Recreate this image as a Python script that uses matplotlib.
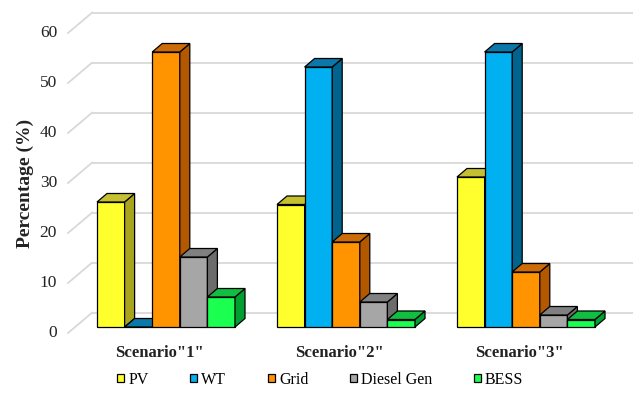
import matplotlib
matplotlib.use("Agg")
import matplotlib.pyplot as plt
from matplotlib.patches import Polygon

plt.rcParams['font.family'] = ['Liberation Serif', 'DejaVu Serif']

# ---- data ----
scenarios = ['Scenario"1"', 'Scenario"2"', 'Scenario"3"']
sources = ['PV', 'WT', 'Grid', 'Diesel Gen', 'BESS']
pv = [25, 24.5, 30]
wt = [0, 52, 55]
grid = [55, 17, 11]
diesel = [14, 5, 2.4]
bess = [6, 1.5, 1.5]
yticks = [0, 10, 20, 30, 40, 50, 60]

series = [pv, wt, grid, diesel, bess]
front_c = ['#ffff2e', '#00b0f0', '#ff9400', '#a6a6a6', '#1aff50']
side_c = ['#a8a41c', '#00648e', '#b45800', '#6c6c6c', '#00a030']
top_c = ['#c4c030', '#0a78a8', '#cc6c08', '#808080', '#10bf40']

# ---- pseudo-3D geometry (x in group units, y in percent) ----
BAR_W = 27.6 / 180
DX, DY = 10 / 180, 1.7            # bar depth projection
AXIS_X = -91 / 180                # left edge of bar plane
WALL_DX, WALL_DY = 17 / 180, 2.86  # back wall relative to bar plane
FRONT_DX, FRONT_DY = -7 / 180, -1.2  # front plane relative to bar plane

fig = plt.figure(figsize=(6.33, 4.05), dpi=100)
ax = fig.add_axes([0, 0, 1, 1])
ax.set_xlim(-166 / 180, (633 - 166) / 180)
ax.set_ylim(-15.6, 65.4)
ax.axis('off')

grid_col = '#d9d9d9'
xr = ax.get_xlim()[1]
for v in yticks:
    # back-wall gridline
    ax.plot([AXIS_X + WALL_DX, xr], [v + WALL_DY, v + WALL_DY],
            color=grid_col, lw=1.3, zorder=1, solid_capstyle='butt')
    # receding line from the front plane to the wall
    ax.plot([AXIS_X + FRONT_DX, AXIS_X + WALL_DX],
            [v + FRONT_DY, v + WALL_DY], color=grid_col, lw=1.3, zorder=1)
    ax.text(AXIS_X + FRONT_DX - 11 / 180, v + FRONT_DY, str(v),
            ha='right', va='center', fontsize=12.5, color='#222222')

n = len(sources)
handles = []
for i, (vals, name) in enumerate(zip(series, sources)):
    xs = [g - (n / 2) * BAR_W + i * BAR_W for g in range(len(scenarios))]
    z = 10 + i
    bc = ax.bar(xs, vals, width=BAR_W, align='edge', color=front_c[i],
                edgecolor='black', linewidth=0.9, zorder=z, label=name)
    handles.append(bc)
    for xl, h in zip(xs, vals):
        side = [(xl + BAR_W, 0), (xl + BAR_W + DX, DY),
                (xl + BAR_W + DX, h + DY), (xl + BAR_W, h)]
        top = [(xl, h), (xl + DX, h + DY),
               (xl + BAR_W + DX, h + DY), (xl + BAR_W, h)]
        ax.add_patch(Polygon(side, closed=True, facecolor=side_c[i],
                             edgecolor='black', lw=0.9, zorder=z))
        ax.add_patch(Polygon(top, closed=True, facecolor=top_c[i],
                             edgecolor='black', lw=0.9, zorder=z))

for g, lab in enumerate(scenarios):
    ax.text(g + FRONT_DX, -5.2, lab, ha='center', va='center',
            fontsize=12, fontweight='bold', color='#222222')

ax.text(-141 / 180, 28.8, 'Percentage (%)', rotation=90, ha='center',
        va='center', fontsize=14, fontweight='bold', color='#222222')

fig.legend(handles=handles, labels=sources, loc='center',
           bbox_to_anchor=(0.506, 0.062), ncol=5, frameon=False,
           fontsize=11.5, handlelength=0.45, handleheight=0.45,
           handletextpad=0.25, columnspacing=2.6)

fig.savefig('out.png', dpi=100)
